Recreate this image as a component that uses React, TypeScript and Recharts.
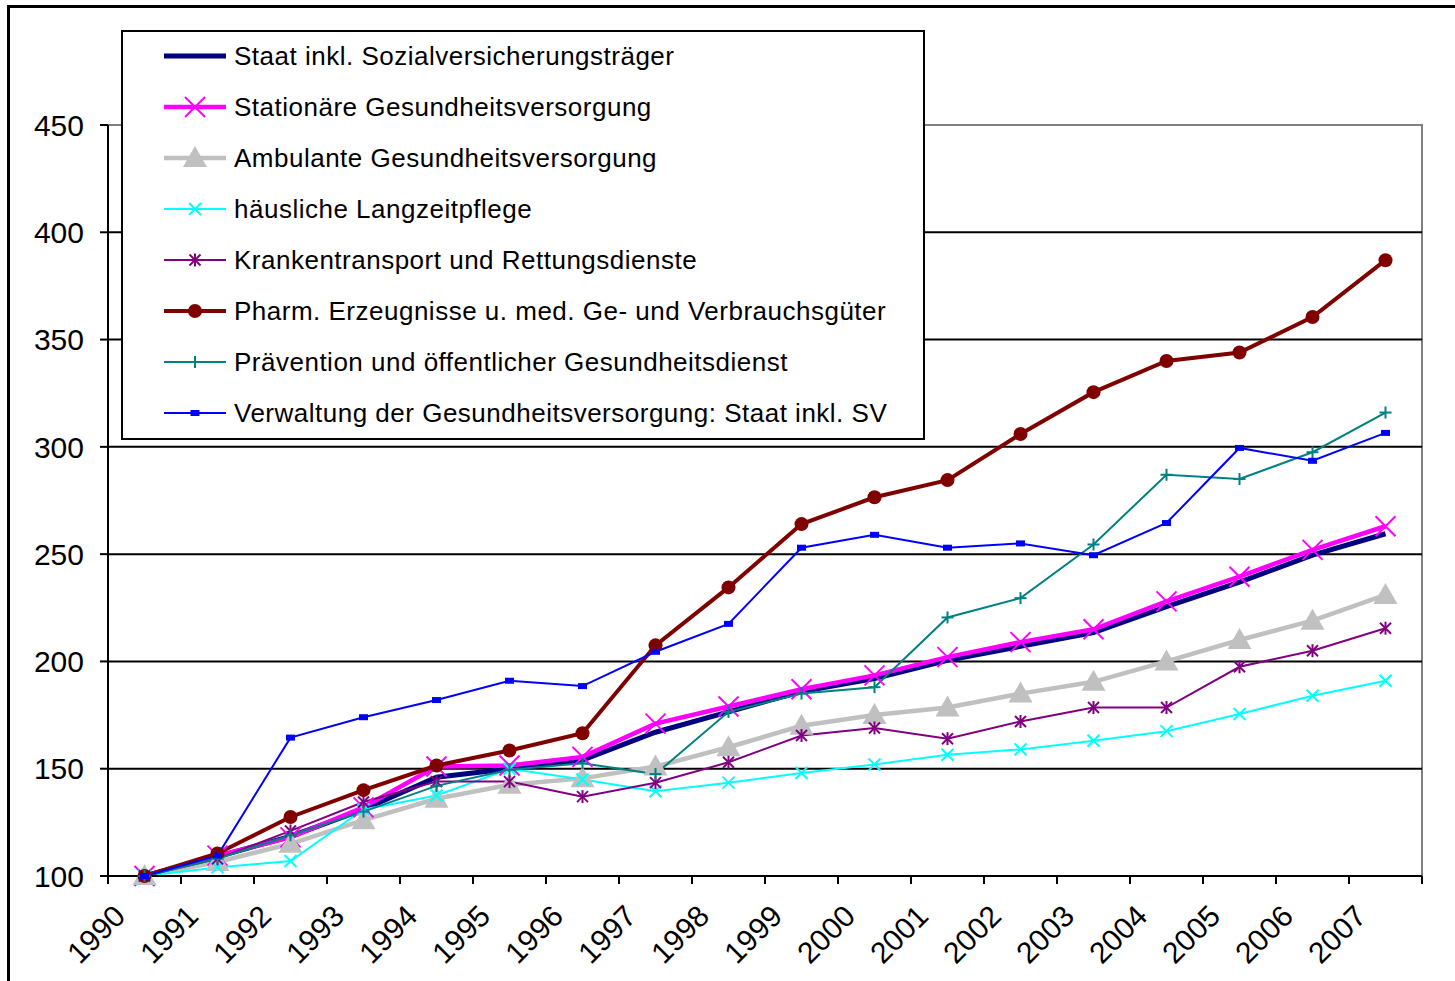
import { LineChart, Line, XAxis, YAxis, ReferenceLine, ReferenceArea } from "recharts";

const years = ["1990", "1991", "1992", "1993", "1994", "1995", "1996", "1997", "1998", "1999", "2000", "2001", "2002", "2003", "2004", "2005", "2006", "2007"];

const staat = [100, 109, 118.5, 131, 146, 150, 154, 167, 176.5, 186, 192, 200.5, 207, 213.5, 225.5, 237, 249.5, 259.5];
const stationaere = [100, 109.5, 118, 132, 151, 151.5, 155.5, 171, 179, 187, 193.5, 202, 209, 215, 228, 239.5, 252, 263];
const ambulante = [100, 106.5, 115, 126, 136, 142.5, 145.5, 151, 160, 170, 175, 178.5, 185, 190.5, 200, 210, 219, 231];
const haeusliche = [100, 104, 107, 131, 137.5, 150, 145, 139.5, 143.5, 148, 152, 156.5, 159, 163, 167.5, 175.5, 184, 191];
const kranken = [100, 108, 121, 134.5, 144, 144, 137, 143.5, 153, 165.5, 169, 164, 172, 178.5, 178.5, 197.5, 205, 215.5];
const pharm = [100, 110.5, 127.5, 140, 151.5, 158.5, 166.5, 207.5, 234.5, 264, 276.5, 284.5, 306, 325.5, 340, 344, 360.5, 387];
const praevention = [100, 108, 119, 130, 142, 149.5, 152.5, 147.5, 176.5, 185, 188, 220.5, 229.5, 254.5, 287, 285, 297.5, 316];
const verwaltung = [100, 109.5, 164.5, 174, 182, 191, 188.5, 204.5, 217.5, 253, 259, 253, 255, 249.5, 264.5, 299.5, 293.5, 306.5];

const yTicks = [100, 150, 200, 250, 300, 350, 400, 450];
const gridValues = [150, 200, 250, 300, 350, 400];

const series = [
  { key: "staat", name: "Staat inkl. Sozialversicherungsträger", values: staat, color: "#000080", width: 5, marker: "none" },
  { key: "stat", name: "Stationäre Gesundheitsversorgung", values: stationaere, color: "#FF00FF", width: 4.5, marker: "bigx" },
  { key: "amb", name: "Ambulante Gesundheitsversorgung", values: ambulante, color: "#C0C0C0", width: 4.5, marker: "triangle" },
  { key: "haus", name: "häusliche Langzeitpflege", values: haeusliche, color: "#00FFFF", width: 2, marker: "x" },
  { key: "kranken", name: "Krankentransport und Rettungsdienste", values: kranken, color: "#800080", width: 2, marker: "star" },
  { key: "pharm", name: "Pharm. Erzeugnisse u. med. Ge- und Verbrauchsgüter", values: pharm, color: "#800000", width: 4, marker: "circle" },
  { key: "praev", name: "Prävention und öffentlicher Gesundheitsdienst", values: praevention, color: "#008080", width: 2, marker: "plus" },
  { key: "verw", name: "Verwaltung der Gesundheitsversorgung: Staat inkl. SV", values: verwaltung, color: "#0000FF", width: 2, marker: "rect" },
];

const data = years.map((year, i) => {
  const row: Record<string, number | string> = { idx: i, year };
  series.forEach((s) => {
    row[s.key] = s.values[i];
  });
  return row;
});

const xTicks = [...years.map((_, i) => i - 0.5), years.length - 0.5];

const FONT = "'Liberation Sans', Arial, sans-serif";

function Marker({ type, cx, cy, color }: { type: string; cx: number; cy: number; color: string }) {
  if (type === "bigx") {
    const r = 10;
    return (
      <g stroke={color} strokeWidth={2}>
        <line x1={cx - r} y1={cy - r} x2={cx + r} y2={cy + r} />
        <line x1={cx - r} y1={cy + r} x2={cx + r} y2={cy - r} />
      </g>
    );
  }
  if (type === "x") {
    const r = 6;
    return (
      <g stroke={color} strokeWidth={2}>
        <line x1={cx - r} y1={cy - r} x2={cx + r} y2={cy + r} />
        <line x1={cx - r} y1={cy + r} x2={cx + r} y2={cy - r} />
      </g>
    );
  }
  if (type === "triangle") {
    return <polygon points={`${cx},${cy - 12} ${cx - 12},${cy + 9} ${cx + 12},${cy + 9}`} fill={color} />;
  }
  if (type === "star") {
    const r = 5.5;
    return (
      <g stroke={color} strokeWidth={2}>
        <line x1={cx - r} y1={cy - r} x2={cx + r} y2={cy + r} />
        <line x1={cx - r} y1={cy + r} x2={cx + r} y2={cy - r} />
        <line x1={cx} y1={cy - r - 1} x2={cx} y2={cy + r + 1} />
      </g>
    );
  }
  if (type === "circle") {
    return <circle cx={cx} cy={cy} r={7} fill={color} />;
  }
  if (type === "plus") {
    const r = 6;
    return (
      <g stroke={color} strokeWidth={2}>
        <line x1={cx - r} y1={cy} x2={cx + r} y2={cy} />
        <line x1={cx} y1={cy - r} x2={cx} y2={cy + r} />
      </g>
    );
  }
  if (type === "rect") {
    return <rect x={cx - 4.5} y={cy - 3} width={9} height={6} fill={color} />;
  }
  return null;
}

function XTick(props: any) {
  const { x, y, payload } = props;
  const i = payload.value + 0.5;
  if (i >= years.length) return null;
  const ax = x + 19;
  const ay = y + 32;
  return (
    <text
      x={ax}
      y={ay}
      transform={`rotate(-45 ${ax} ${ay})`}
      textAnchor="end"
      fontSize={30}
      fontFamily={FONT}
      fill="#000"
    >
      {years[i]}
    </text>
  );
}

export default function App() {
  return (
    <div
      style={{
        position: "absolute",
        left: 7,
        top: 5,
        width: 1448,
        height: 976,
        borderTop: "3px solid #000",
        borderLeft: "3px solid #000",
        boxSizing: "border-box",
        overflow: "hidden",
        background: "#fff",
        fontFamily: FONT,
      }}
    >
      <LineChart
        width={1430}
        height={965}
        data={data}
        margin={{ top: 117, right: 18, bottom: 12, left: 28 }}
      >
        <XAxis
          dataKey="idx"
          type="number"
          domain={[-0.5, years.length - 0.5]}
          ticks={xTicks}
          interval={0}
          height={85}
          tickSize={8}
          tickMargin={2}
          stroke="#000"
          strokeWidth={2}
          tick={<XTick />}
        />
        <YAxis
          domain={[100, 450]}
          ticks={yTicks}
          interval={0}
          width={70}
          tickSize={8}
          tickMargin={16}
          stroke="#000"
          strokeWidth={2}
          tick={{ fontSize: 30, fontFamily: FONT, fill: "#000" }}
        />
        <ReferenceArea
          x1={-0.5}
          x2={years.length - 0.5}
          y1={100}
          y2={450}
          fill="none"
          stroke="#808080"
          strokeWidth={2}
          fillOpacity={0}
          ifOverflow="visible"
        />
        {gridValues.map((v) => (
          <ReferenceLine key={v} y={v} stroke="#000" strokeWidth={2} />
        ))}
        {series.map((s) => (
          <Line
            key={s.key}
            dataKey={s.key}
            type="linear"
            stroke={s.color}
            strokeWidth={s.width}
            isAnimationActive={false}
            activeDot={false}
            dot={(p: any) => <Marker key={`${s.key}-${p.index}`} type={s.marker} cx={p.cx} cy={p.cy} color={s.color} />}
          />
        ))}
      </LineChart>
      <div
        style={{
          position: "absolute",
          left: 111,
          top: 22,
          width: 804,
          height: 410,
          border: "2px solid #000",
          boxSizing: "border-box",
          background: "#fff",
        }}
      >
        {series.map((s, i) => (
          <div
            key={s.key}
            style={{
              position: "absolute",
              left: 40,
              top: 6 + i * 51,
              height: 36,
              display: "flex",
              alignItems: "center",
              whiteSpace: "nowrap",
            }}
          >
            <svg width={64} height={36} style={{ marginRight: 7 }}>
              <line x1={1} y1={18} x2={63} y2={18} stroke={s.color} strokeWidth={s.width} />
              <Marker type={s.marker} cx={32} cy={18} color={s.color} />
            </svg>
            <span style={{ fontSize: 26, letterSpacing: 0.5, color: "#000" }}>{s.name}</span>
          </div>
        ))}
      </div>
    </div>
  );
}
